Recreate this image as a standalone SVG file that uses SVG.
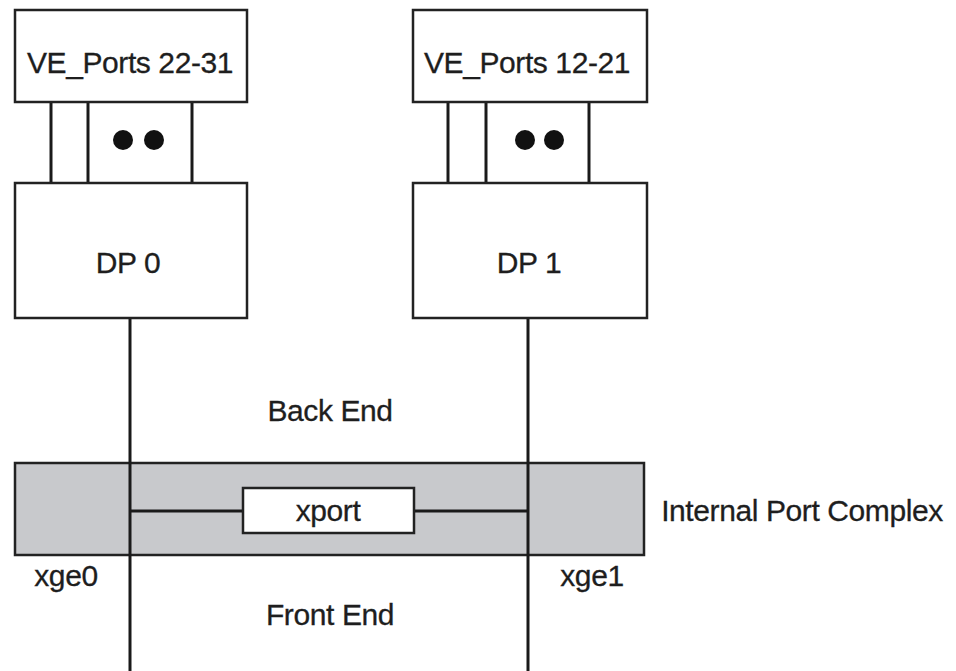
<svg xmlns="http://www.w3.org/2000/svg" width="956" height="671" viewBox="0 0 956 671">
<style>
.box{fill:#fff;stroke:#222;stroke-width:2.5}
.band{fill:#c8c9cc;stroke:#222;stroke-width:2.5}
.ln{stroke:#1a1a1a;stroke-width:3;fill:none}
.t{font-family:"Liberation Sans",Arial,sans-serif;font-size:30px;letter-spacing:-0.4px;fill:#1e1e1e;stroke:#1e1e1e;stroke-width:0.3;text-anchor:middle}
.dot{fill:#111}
</style>
<rect width="956" height="671" fill="#fff"/>
<g id="internal-port-complex">
<rect class="band" x="15" y="463" width="629" height="92"/>
<text class="t" x="802" y="521">Internal Port Complex</text>
</g>
<g id="connectors">
<line class="ln" x1="51" y1="102" x2="51" y2="183"/>
<line class="ln" x1="88" y1="102" x2="88" y2="183"/>
<line class="ln" x1="192" y1="102" x2="192" y2="183"/>
<line class="ln" x1="448" y1="102" x2="448" y2="183"/>
<line class="ln" x1="486" y1="102" x2="486" y2="183"/>
<line class="ln" x1="589" y1="102" x2="589" y2="183"/>
<line class="ln" x1="130" y1="318" x2="130" y2="671"/>
<line class="ln" x1="528" y1="318" x2="528" y2="671"/>
<line class="ln" x1="130" y1="511" x2="243" y2="511"/>
<line class="ln" x1="414" y1="511" x2="528" y2="511"/>
</g>
<g id="ve-ports-22-31">
<rect class="box" x="15" y="10" width="232" height="92"/>
<text class="t" x="130" y="73">VE_Ports 22-31</text>
</g>
<g id="dots-left">
<circle class="dot" cx="123" cy="140" r="10"/>
<circle class="dot" cx="154" cy="140" r="10"/>
</g>
<g id="ve-ports-12-21">
<rect class="box" x="413" y="10" width="234" height="92"/>
<text class="t" x="527" y="73">VE_Ports 12-21</text>
</g>
<g id="dots-right">
<circle class="dot" cx="525" cy="140" r="10"/>
<circle class="dot" cx="554" cy="140" r="10"/>
</g>
<g id="dp0">
<rect class="box" x="15" y="183" width="232" height="135"/>
<text class="t" x="128" y="273">DP 0</text>
</g>
<g id="dp1">
<rect class="box" x="413" y="183" width="234" height="135"/>
<text class="t" x="529" y="273">DP 1</text>
</g>
<g id="xport">
<rect class="box" x="243" y="488" width="171" height="45"/>
<text class="t" x="328" y="521">xport</text>
</g>
<g id="labels">
<text class="t" x="330" y="421">Back End</text>
<text class="t" x="330" y="625">Front End</text>
<text class="t" x="66" y="586">xge0</text>
<text class="t" x="592" y="586">xge1</text>
</g>
</svg>
